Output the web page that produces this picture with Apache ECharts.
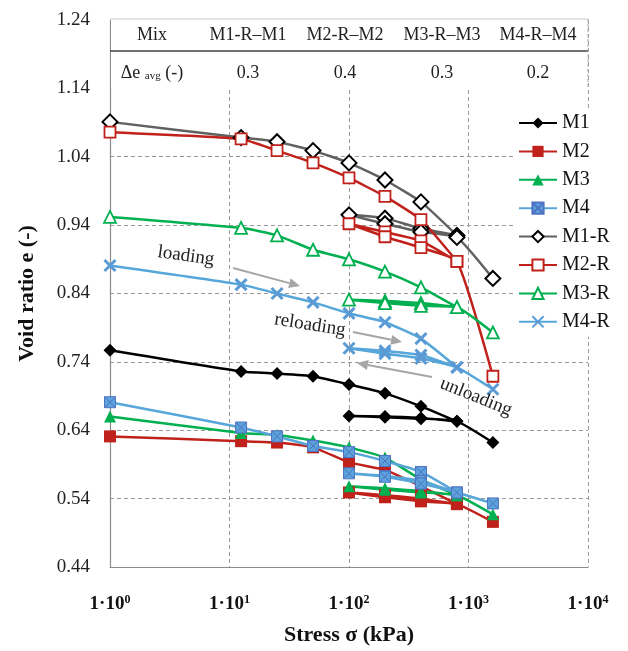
<!DOCTYPE html>
<html><head><meta charset="utf-8">
<script src="https://cdn.jsdelivr.net/npm/echarts@6/dist/echarts.min.js"></script>
<style>html,body{margin:0;padding:0;background:#fff}#c{width:628px;height:651px}</style>
</head><body><div id="c"></div>
<script>
// Stress path: loading 1..800, unloading 800..100, reloading 100..800, then 1600 kPa
const stress = [1, 12.5, 25, 50, 100, 200, 400, 800, 400, 200, 100, 200, 400, 800, 1600];
const eM1  = [0.757,0.726,0.723,0.719,0.707,0.694,0.675,0.653,0.658,0.660,0.661,0.659,0.657,0.653,0.622];
const eM2  = [0.631,0.624,0.622,0.615,0.593,0.582,0.558,0.532,0.540,0.545,0.549,0.542,0.536,0.532,0.506];
const eM3  = [0.660,0.636,0.633,0.625,0.615,0.600,0.568,0.545,0.551,0.555,0.558,0.553,0.549,0.545,0.517];
const eM4  = [0.681,0.644,0.631,0.617,0.608,0.595,0.579,0.549,0.566,0.573,0.577,0.572,0.562,0.549,0.533];
const eM1R = [1.091,1.068,1.062,1.049,1.031,1.006,0.974,0.925,0.935,0.950,0.955,0.942,0.930,0.922,0.862];
const eM2R = [1.076,1.066,1.049,1.031,1.009,0.982,0.948,0.887,0.917,0.930,0.942,0.923,0.907,0.887,0.719];
const eM3R = [0.952,0.936,0.925,0.904,0.890,0.872,0.849,0.820,0.826,0.829,0.831,0.826,0.822,0.820,0.783];
const eM4R = [0.881,0.853,0.840,0.827,0.811,0.798,0.774,0.732,0.750,0.756,0.760,0.752,0.745,0.732,0.700];
const seriesNames = ['M1','M2','M3','M4','M1-R','M2-R','M3-R','M4-R'];
const yTicks = [0.44,0.54,0.64,0.74,0.84,0.94,1.04,1.14,1.24];
const tableHeader = ['Mix','M1-R\u2013M1','M2-R\u2013M2','M3-R\u2013M3','M4-R\u2013M4'];
const tableRowValues = ['0.3','0.4','0.3','0.2'];

const FONT = 'Liberation Serif';
const RED = '#C0211A', GREEN = '#00B050', BLUE = '#57A6DA', GRAY = '#616161';

function pairs(e){ return stress.map((s,i)=>[s,e[i]]); }
function mk(name, e, lineColor, symbol, size, fill, border, bw){
  return {
    name, type:'line', data: pairs(e), smooth: 0.15,
    symbol, symbolSize: size,
    lineStyle:{color: lineColor, width: 2.5},
    itemStyle:{color: fill, borderColor: border, borderWidth: bw},
    emphasis:{disabled:true}
  };
}
const SQX = 'path://M0,0L10,0L10,10L0,10ZM0,0L10,10M10,0L0,10';
const XX = 'path://M0,0L10,10M10,0L0,10';

const series = [
  mk('M1', eM1, '#000', 'diamond', 13, '#000', '#000', 0),
  mk('M2', eM2, RED, 'rect', 12, RED, RED, 0),
  mk('M3', eM3, GREEN, 'triangle', 12, GREEN, GREEN, 0),
  mk('M4', eM4, BLUE, SQX, 11, '#5BA3DA', '#4F72C4', 1),
  mk('M1-R', eM1R, GRAY, 'diamond', 15, '#fff', '#000', 2),
  mk('M2-R', eM2R, RED, 'rect', 11, '#fff', RED, 1.8),
  mk('M3-R', eM3R, GREEN, 'triangle', 12, '#fff', GREEN, 1.8),
  mk('M4-R', eM4R, BLUE, XX, 11, BLUE, '#5B9BD5', 3)
];

function arrow(x1,y1,x2,y2){
  const a = Math.atan2(y2-y1, x2-x1), L = 11, W = 5;
  const bx = x2 - L*Math.cos(a), by = y2 - L*Math.sin(a);
  return [
    {type:'line', shape:{x1,y1,x2:bx,y2:by}, style:{stroke:'#A6A6A6', lineWidth:2}, z:50},
    {type:'polygon', shape:{points:[[x2,y2],[bx - W*Math.sin(a), by + W*Math.cos(a)],[bx + W*Math.sin(a), by - W*Math.cos(a)]]}, style:{fill:'#A6A6A6'}, z:50}
  ];
}
const txtStyle = (t, extra) => Object.assign({text:t, font:'18px "'+FONT+'"', fill:'#222', align:'center', verticalAlign:'middle'}, extra||{});

const colX = [152, 248, 345, 442, 538];
const graphic = [
  {type:'rect', shape:{x:111, y:19, width:477, height:70}, style:{fill:'#fff'}, z:40},
  {type:'line', shape:{x1:110,y1:19,x2:588,y2:19}, style:{stroke:'#c8c8c8', lineWidth:1}, z:41},
  {type:'line', shape:{x1:110,y1:51,x2:588,y2:51}, style:{stroke:'#404040', lineWidth:1.5}, z:41},
  {type:'line', shape:{x1:588,y1:19,x2:588,y2:89}, style:{stroke:'#aaa', lineWidth:1, lineDash:[3,2]}, z:41},
];
tableHeader.forEach((t,i)=>graphic.push({type:'text', x:colX[i], y:35, style:txtStyle(t), z:42}));
graphic.push({type:'text', x:colX[0], y:73, z:42, style:{
  text:'{a|\u0394e }{s|avg}{a| (-)}', align:'center', verticalAlign:'middle',
  rich:{a:{fontFamily:FONT, fontSize:18, fill:'#222'}, s:{fontFamily:FONT, fontSize:11, fill:'#222', verticalAlign:'bottom', padding:[6,0,0,0]}}
}});
tableRowValues.forEach((t,i)=>graphic.push({type:'text', x:colX[i+1], y:73, style:txtStyle(t), z:42}));
graphic.push({type:'text', x:186, y:256, rotation:-8*Math.PI/180, style:txtStyle('loading',{font:'19px "'+FONT+'"'}), z:50});
graphic.push({type:'text', x:310, y:325, rotation:-9*Math.PI/180, style:txtStyle('reloading',{font:'19px "'+FONT+'"'}), z:50});
graphic.push({type:'text', x:476, y:397, rotation:-22*Math.PI/180, style:txtStyle('unloading',{font:'19px "'+FONT+'"'}), z:50});
graphic.push(...arrow(233,268,300,286));
graphic.push(...arrow(353,332,402,342));
graphic.push(...arrow(432,377,357,363));

const chart = echarts.init(document.getElementById('c'), null, {renderer:'canvas'});
chart.setOption({
  animation:false,
  backgroundColor:'#fff',
  grid:{left:110, right:40, top:20, bottom:83},
  legend:{
    data: seriesNames, orient:'vertical', left:514, top:108,
    itemWidth:38, itemHeight:14, itemGap:8.4, padding:[5,4,5,4],
    backgroundColor:'#fff', z:60,
    textStyle:{fontFamily:FONT, fontSize:20, color:'#111', lineHeight:20}
  },
  xAxis:{
    type:'log', logBase:10, min:1, max:10000,
    name:'Stress \u03c3 (kPa)', nameLocation:'middle', nameGap:57,
    nameTextStyle:{fontFamily:FONT, fontSize:22, fontWeight:'bold', color:'#111'},
    axisLine:{lineStyle:{color:'#8c8c8c', width:1.2}},
    axisTick:{show:false}, minorTick:{show:false},
    axisLabel:{margin:27, formatter:(v)=>'{b|1\u00b710}{s|'+Math.round(Math.log10(v))+'}',
      rich:{b:{fontFamily:FONT, fontSize:19, fontWeight:'bold', color:'#111'},
            s:{fontFamily:FONT, fontSize:12, fontWeight:'bold', color:'#111', verticalAlign:'top', padding:[0,0,8,0]}}},
    splitLine:{show:true, lineStyle:{color:'#9a9a9a', type:[4,3], width:1}}
  },
  yAxis:{
    type:'value', min:0.44, max:1.24, interval:0.1,
    name:'Void ratio e (-)', nameLocation:'middle', nameGap:72,
    nameTextStyle:{fontFamily:FONT, fontSize:22, fontWeight:'bold', color:'#111'},
    axisLine:{show:true, lineStyle:{color:'#8c8c8c', width:1.2}},
    axisTick:{show:false},
    axisLabel:{margin:20, fontFamily:FONT, fontSize:19, color:'#222', formatter:(v)=>v.toFixed(2)},
    splitLine:{show:true, lineStyle:{color:'#9a9a9a', type:[4,3], width:1}}
  },
  graphic,
  series
});
</script></body></html>
